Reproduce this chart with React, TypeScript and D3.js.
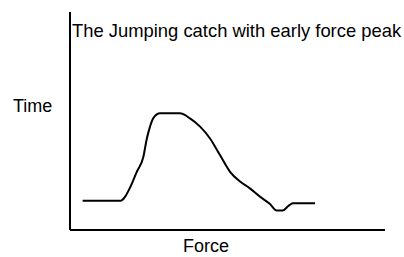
import React from "react";
import * as d3 from "d3";

const W = 404;
const H = 257;

const forceValues = [4.0, 16.1, 17.5, 19.0, 21.2, 23.3, 24.3, 25.4, 26.4, 28.6, 34.9, 38.1, 41.3, 44.4, 47.6, 50.8, 54.0, 57.1, 60.3, 63.5, 65.6, 67.5, 69.3, 70.7, 77.8];
const timeValues = [13.4, 13.4, 15.3, 19.3, 26.7, 33.6, 41.3, 47.4, 51.2, 53.5, 53.5, 51.2, 47.4, 42.1, 34.4, 26.7, 22.2, 19.1, 15.3, 11.9, 8.9, 8.9, 11.0, 12.3, 12.3];

const title = "The Jumping catch with early force peak";
const xLabel = "Force";
const yLabel = "Time";

export default function App() {
  const x = d3.scaleLinear().domain([0, 100]).range([70, 385]);
  const y = d3.scaleLinear().domain([0, 100]).range([230, 12]);
  const pts: [number, number][] = forceValues.map((f, i) => [f, timeValues[i]]);
  const line = d3
    .line<[number, number]>()
    .x((d) => x(d[0]))
    .y((d) => y(d[1]))
    .curve(d3.curveMonotoneX);
  const font = "'Liberation Sans', Arial, sans-serif";
  return (
    <svg
      width={W}
      height={H}
      style={{ position: "absolute", left: 0, top: 0, background: "#fff" }}
    >
      <rect x={0} y={0} width={W} height={H} fill="#fff" />
      <line x1={x(0)} y1={y(100)} x2={x(0)} y2={y(0)} stroke="#000" strokeWidth={2} />
      <line x1={x(0)} y1={y(0)} x2={x(100)} y2={y(0)} stroke="#000" strokeWidth={2} />
      <path d={line(pts) || ""} fill="none" stroke="#000" strokeWidth={2} strokeLinejoin="round" />
      <text x={72} y={37} fontFamily={font} fontSize={18.4} fill="#000">{title}</text>
      <text x={13} y={112} fontFamily={font} fontSize={18} fill="#000">{yLabel}</text>
      <text x={183} y={252} fontFamily={font} fontSize={18} fill="#000">{xLabel}</text>
    </svg>
  );
}
